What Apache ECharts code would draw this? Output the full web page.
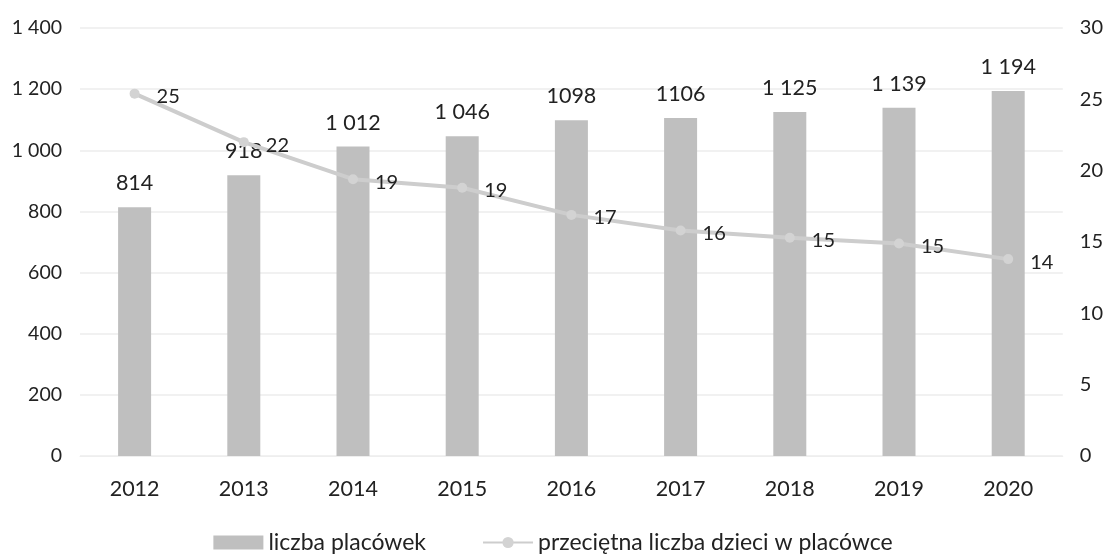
<!DOCTYPE html>
<html>
<head>
<meta charset="utf-8">
<script src="https://cdn.jsdelivr.net/npm/echarts@6/dist/echarts.min.js"></script>
<style>
  html, body { margin: 0; padding: 0; background: #fff; }
  #box { width: 1106px; height: 555px; }
</style>
</head>
<body>
<div id="box"></div>
<script>
// lata
const years = ['2012', '2013', '2014', '2015', '2016', '2017', '2018', '2019', '2020'];
// liczba placówek
const placowki = [814, 918, 1012, 1046, 1098, 1106, 1125, 1139, 1194];
const placowkiLabels = ['814', '918', '1 012', '1 046', '1098', '1106', '1 125', '1 139', '1 194'];
// przeciętna liczba dzieci w placówce
const dzieci = [25.4, 22.0, 19.4, 18.8, 16.9, 15.8, 15.3, 14.9, 13.8];
const leftTicks = ['0', '200', '400', '600', '800', '1 000', '1 200', '1 400'];

const font = 'Lato, "Open Sans", sans-serif';
const myChart = echarts.init(document.getElementById('box'));

const option = {
  animation: false,
  textStyle: { fontFamily: font },
  grid: {
    left: 80,
    right: 43,
    top: 28,
    bottom: 99
  },
  legend: {
    top: 531,
    left: 'center',
    padding: 0,
    itemWidth: 50,
    itemHeight: 14,
    itemGap: 56,
    textStyle: { fontSize: 23, color: '#222', fontFamily: font },
    data: [
      { name: 'liczba placówek', icon: 'rect' },
      { name: 'przeciętna liczba dzieci w placówce' }
    ]
  },
  xAxis: {
    type: 'category',
    data: years,
    axisLine: { show: true, lineStyle: { color: '#eeeeee', width: 1 } },
    axisTick: { show: false },
    axisLabel: { fontSize: 21.5, color: '#222', margin: 22, fontFamily: font }
  },
  yAxis: [
    {
      type: 'value',
      min: 0,
      max: 1400,
      interval: 200,
      axisLine: { show: false },
      axisTick: { show: false },
      splitLine: { lineStyle: { color: '#f1f1f1', width: 2 } },
      axisLabel: {
        fontSize: 19.5,
        color: '#222',
        margin: 18,
        fontFamily: font,
        formatter: function (v) { return leftTicks[v / 200]; }
      }
    },
    {
      type: 'value',
      min: 0,
      max: 30,
      interval: 5,
      axisLine: { show: false },
      axisTick: { show: false },
      splitLine: { show: false },
      axisLabel: { fontSize: 20, color: '#222', margin: 17, fontFamily: font }
    }
  ],
  series: [
    {
      name: 'liczba placówek',
      type: 'bar',
      data: placowki,
      barWidth: 33,
      itemStyle: { color: '#bfbfbf' },
      label: {
        show: true,
        position: 'top',
        distance: 13,
        fontSize: 21.5,
        color: '#222',
        fontFamily: font,
        formatter: function (p) { return placowkiLabels[p.dataIndex]; }
      }
    },
    {
      name: 'przeciętna liczba dzieci w placówce',
      type: 'line',
      yAxisIndex: 1,
      data: dzieci,
      symbol: 'circle',
      symbolSize: 10,
      z: 5,
      lineStyle: { color: '#cdcdcd', width: 4 },
      itemStyle: { color: '#d3d3d3' },
      label: {
        show: true,
        position: 'right',
        distance: 17,
        offset: [0, 3],
        fontSize: 20,
        color: '#222',
        fontFamily: font,
        formatter: function (p) { return Math.round(p.value); }
      }
    }
  ]
};
myChart.setOption(option);
</script>
</body>
</html>
